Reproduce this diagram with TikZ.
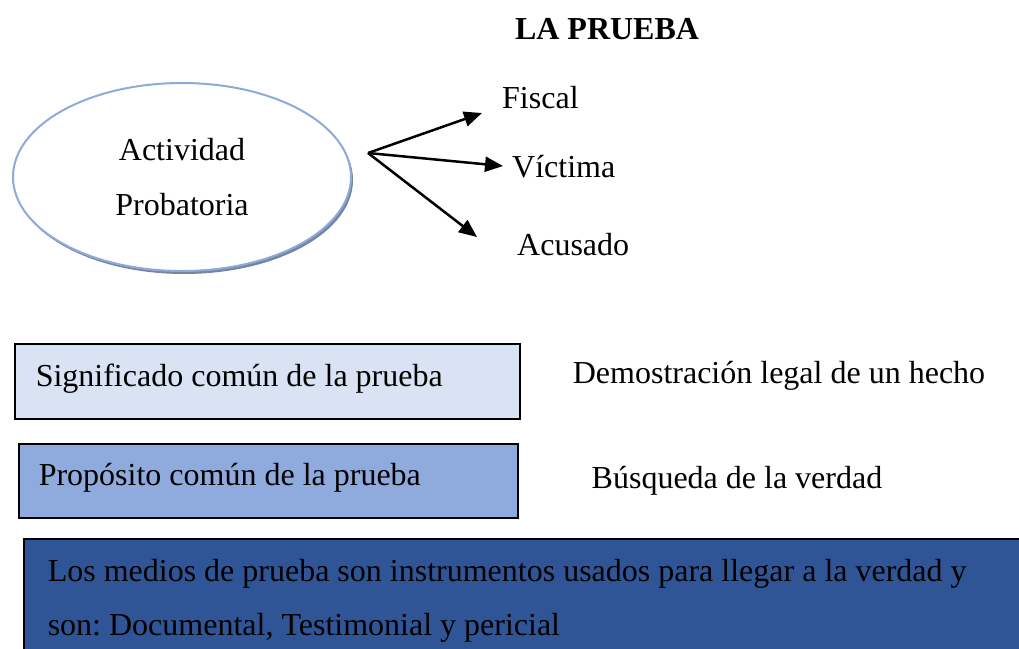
\documentclass[tikz,border=0pt]{standalone}
\usepackage{fontspec}
\setmainfont{Liberation Serif}
\frenchspacing
\usetikzlibrary{shapes.geometric,shadows,arrows.meta}
\definecolor{rimblue}{HTML}{8EAADB}
\definecolor{shadeblue}{HTML}{7586A3}
\definecolor{paleblue}{HTML}{DAE3F3}
\definecolor{midblue}{HTML}{8FAADC}
\definecolor{deepblue}{HTML}{2F5597}
\begin{document}
\begin{tikzpicture}[x=1pt,y=-1pt,
    txt/.style={font=\fontsize{32}{40}\selectfont, inner sep=0pt},
    box/.style={txt, draw, line width=1.5pt, anchor=north west, align=flush left,
              inner ysep=0pt, text height=22pt, text depth=12pt},
    arrow/.style={line width=2.5pt, -{Triangle[length=18pt,width=15pt]}}]
    \useasboundingbox (0,0) rectangle (1019,648);
    \clip (0,0) rectangle (1019,648);
    % title
    \node[txt, font=\bfseries\fontsize{32}{40}\selectfont, anchor=base] (titulo) at (607,39) {LA PRUEBA};
    % ellipse and the three parties
    \node[txt, ellipse, draw=rimblue, fill=white, line width=2pt, minimum width=338, minimum height=188,
          align=center, drop shadow={fill=shadeblue, shadow xshift=2pt, shadow yshift=-3pt, opacity=1},
          font=\fontsize{32}{55}\selectfont] (actividad) at (182,177) {Actividad\\Probatoria};
    \node[txt, anchor=base west] (fiscal) at (502,108) {Fiscal};
    \node[txt, anchor=base west] (victima) at (512,177) {Víctima};
    \node[txt, anchor=base west] (acusado) at (517,255) {Acusado};
    \coordinate (origen) at (368,153);
    \coordinate (pfiscal) at (482,113);
    \coordinate (pvictima) at (503,166);
    \coordinate (pacusado) at (477,237);
    \foreach \t in {fiscal,victima,acusado}{
        \draw[arrow] (origen) -- (p\t);
    };
    % boxes
    \node[box, fill=paleblue, minimum width=505, minimum height=75, inner xsep=21pt, text width=463pt]
        (significado) at (14,343) {Significado común de la prueba};
    \node[txt, anchor=base] (demostracion) at (779,383) {Demostración legal de un hecho};
    \node[box, fill=midblue, minimum width=499, minimum height=74, inner xsep=20pt, text width=459pt]
        (proposito) at (18,443) {Propósito común de la prueba};
    \node[txt, anchor=base] (busqueda) at (737,488) {Búsqueda de la verdad};
    \node[box, fill=deepblue, text height=, text depth=, inner xsep=24pt, inner ysep=21pt, text width=1100pt,
          font=\fontsize{32}{54}\selectfont]
        (medios) at (23,538) {Los medios de prueba son instrumentos usados para llegar a la verdad y\\
        son: Documental, Testimonial y pericial};
\end{tikzpicture}
\end{document}
